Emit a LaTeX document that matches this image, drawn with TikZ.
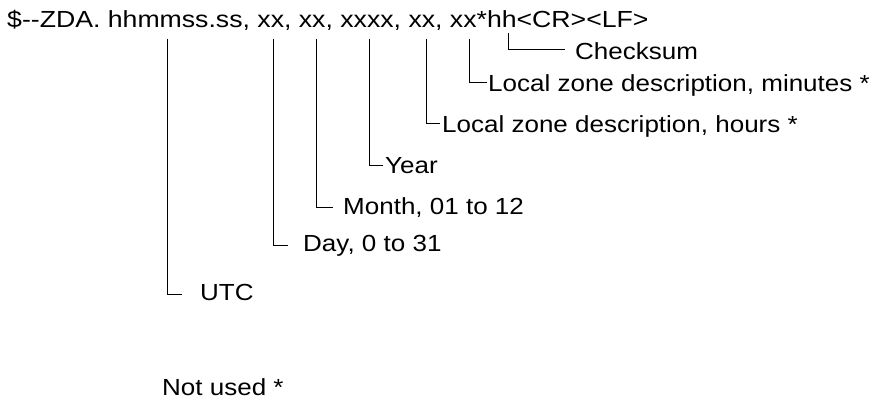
\documentclass[tikz,border=0pt]{standalone}
\usepackage{fontspec}
\setmainfont{Liberation Sans}[FakeStretch=1.116]
\usetikzlibrary{calc}
\begin{document}
\begin{tikzpicture}[x=1pt,y=-1pt,
  lbl/.style={anchor=base west,inner sep=0pt,font=\fontsize{23.3}{28}\selectfont},
  conn/.style={draw=black,line width=0.9pt}]
\useasboundingbox (0,0) rectangle (880,401);
\node[lbl] (hdr) at (7,28) {\scalebox{1.025}[1]{\$-{}-ZDA. hhmmss.ss, xx, xx, xxxx, xx, xx*hh<CR><LF>}};
% tops of connectors
\coordinate (tcs) at (508,33);
\coordinate (tmin) at (469,39);
\coordinate (thr) at (426,39);
\coordinate (tyr) at (369,39);
\coordinate (tmo) at (316,39);
\coordinate (tday) at (273,39);
\coordinate (tutc) at (167,39);
% labels
\node[lbl] (cs) at (575,60) {Checksum};
\node[lbl] (min) at (488,91.7) {Local zone description, minutes *};
\node[lbl] (hr) at (442,132) {Local zone description, hours *};
\node[lbl] (yr) at (385,173) {Year};
\node[lbl] (mo) at (343,214) {Month, 01 to 12};
\node[lbl] (day) at (303,251.7) {Day, 0 to 31};
\node[lbl] (utc) at (200,300.7) {UTC};
\node[lbl] (nu) at (162,395) {Not used *};
% connectors
\draw[conn] (tcs) |- ($(cs.base west)+(-10,-10.7)$);
\draw[conn] (tmin) |- ($(min.base west)+(-1,-9)$);
\draw[conn] (thr) |- ($(hr.base west)+(-2,-9)$);
\draw[conn] (tyr) |- ($(yr.base west)+(-2,-8)$);
\draw[conn] (tmo) |- ($(mo.base west)+(-10,-6.7)$);
\draw[conn] (tday) |- ($(day.base west)+(-15,-6.7)$);
\draw[conn] (tutc) |- ($(utc.base west)+(-18,-6.7)$);
\end{tikzpicture}
\end{document}
